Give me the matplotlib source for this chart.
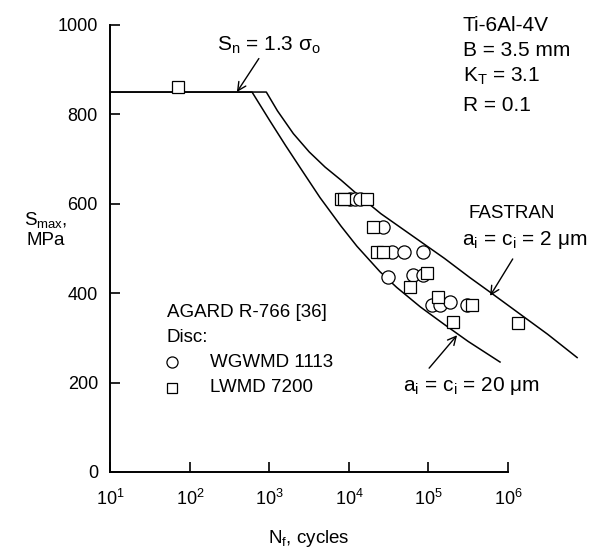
import math
import matplotlib
matplotlib.use("Agg")
import matplotlib.pyplot as plt
from matplotlib.ticker import FixedLocator, FuncFormatter

plt.rcParams['font.family'] = ['Liberation Sans', 'DejaVu Sans']
plt.rcParams['mathtext.fontset'] = 'custom'
plt.rcParams['mathtext.rm'] = 'Liberation Sans'
plt.rcParams['mathtext.it'] = 'Liberation Sans:italic'
plt.rcParams['font.size'] = 13.5

# FASTRAN predictions (cycles, max stress in MPa)
fastran_20um_N = [10, 603, 1000, 1585, 2512, 4315, 7943, 12590, 24550, 39810,
                  79430, 158500, 316200, 794300]
fastran_20um_S = [850, 850, 787, 731, 677, 614, 550, 505, 448, 413,
                  369, 330, 292, 246]
fastran_2um_N = [10, 912, 1259, 1995, 3162, 5012, 7943, 12590, 25120, 63100,
                 158500, 331100, 588800, 1585000, 3162000, 7413000]
fastran_2um_S = [850, 850, 808, 757, 716, 682, 653, 622, 578, 528,
                 478, 435, 403, 347, 308, 256]

# AGARD R-766 test data
wgwmd_N = [10300, 11900, 13700, 26800, 34800, 49200, 85300, 31000, 63800, 85300,
           111000, 140000, 186000, 305000]
wgwmd_S = [610, 610, 610, 548, 492, 492, 492, 436, 441, 441,
           374, 374, 380, 374]
lwmd_N = [71, 7870, 8650, 16800, 20000, 22500, 26800, 95700, 58500,
          132000, 352000, 204000, 1340000]
lwmd_S = [861, 610, 610, 610, 548, 492, 492, 445, 414,
          391, 374, 336, 333]

x_ticks = [1e1, 1e2, 1e3, 1e4, 1e5, 1e6]
y_ticks = [0, 200, 400, 600, 800, 1000]

fig = plt.figure(figsize=(5.96, 5.48), dpi=100)
ax = fig.add_axes([0.1854, 0.1387, 0.6669, 0.8157])

line_kw = dict(color='black', lw=1.1, clip_on=False)
ax.plot(fastran_20um_N, fastran_20um_S, **line_kw)
ax.plot(fastran_2um_N, fastran_2um_S, **line_kw)

ax.plot(wgwmd_N, wgwmd_S, 'o', ms=9.5, mfc='white', mec='black', mew=0.9, clip_on=False)
ax.plot(lwmd_N, lwmd_S, 's', ms=8.5, mfc='white', mec='black', mew=0.9, clip_on=False)

ax.set_xscale('log')
ax.set_xlim(1e1, 1e6)
ax.set_ylim(0, 1000)
ax.xaxis.set_major_locator(FixedLocator(x_ticks))
ax.xaxis.set_minor_locator(FixedLocator([]))
ax.xaxis.set_major_formatter(
    FuncFormatter(lambda v, p: r'$\mathregular{10^{%d}}$' % round(math.log10(v))))
ax.yaxis.set_major_locator(FixedLocator(y_ticks))

for s in ['top', 'right']:
    ax.spines[s].set_visible(False)
for s in ['left', 'bottom']:
    ax.spines[s].set_linewidth(1.4)
ax.tick_params(direction='in', length=7, width=1.2, labelsize=13)
ax.tick_params(axis='y', pad=9)
ax.tick_params(axis='x', pad=12)

ax.set_xlabel(r'N$_\mathregular{f}$, cycles', fontsize=13.5, labelpad=14)
fig.text(0.077, 0.582, r'S$_\mathregular{max}$,' + '\nMPa', ha='center', va='center',
         fontsize=13.5, linespacing=1.15)

# Net-section stress limit annotation
ax.annotate(r'S$_\mathregular{n}$ = 1.3 σ$_\mathregular{o}$', xy=(0.318, 0.850),
            xytext=(0.268, 0.955),
            xycoords='axes fraction', textcoords='axes fraction', ha='left', va='center',
            fontsize=15,
            arrowprops=dict(arrowstyle='->', color='black', lw=1.0,
                            shrinkA=0, shrinkB=0, relpos=(0.42, 0.0)),
            annotation_clip=False)

# Material and test condition block
tx = 0.886
blk = dict(transform=ax.transAxes, ha='left', va='center', clip_on=False, fontsize=15)
ax.text(tx, 0.999, 'Ti-6Al-4V', **blk)
ax.text(tx, 0.942, 'B = 3.5 mm', **blk)
ax.text(tx, 0.886, r'K$_\mathregular{T}$ = 3.1', **blk)
ax.text(tx, 0.821, 'R = 0.1', **blk)

# FASTRAN labels with arrows
ax.text(0.90, 0.578, 'FASTRAN', transform=ax.transAxes, ha='left', va='center',
        clip_on=False, fontsize=13.5)
ax.annotate(r'a$_\mathregular{i}$ = c$_\mathregular{i}$ = 2 μm', xy=(0.955, 0.394),
            xytext=(0.885, 0.518),
            xycoords='axes fraction', textcoords='axes fraction', ha='left', va='center',
            fontsize=15,
            arrowprops=dict(arrowstyle='->', color='black', lw=1.0,
                            shrinkA=4, shrinkB=0, relpos=(0.44, 0.0)),
            annotation_clip=False)
ax.annotate(r'a$_\mathregular{i}$ = c$_\mathregular{i}$ = 20 μm', xy=(0.872, 0.306),
            xytext=(0.735, 0.192),
            xycoords='axes fraction', textcoords='axes fraction', ha='left', va='center',
            fontsize=15,
            arrowprops=dict(arrowstyle='->', color='black', lw=1.0,
                            shrinkA=4, shrinkB=0, relpos=(0.15, 1.0)),
            annotation_clip=False)

# Data source key
ax.text(0.142, 0.356, 'AGARD R-766 [36]', transform=ax.transAxes, ha='left', va='center')
ax.text(0.142, 0.300, 'Disc:', transform=ax.transAxes, ha='left', va='center')
ax.plot([0.155], [0.246], 'o', transform=ax.transAxes, ms=8, mfc='white', mec='black', mew=0.9)
ax.plot([0.155], [0.188], 's', transform=ax.transAxes, ms=7, mfc='white', mec='black', mew=0.9)
ax.text(0.250, 0.246, 'WGWMD 1113', transform=ax.transAxes, ha='left', va='center')
ax.text(0.250, 0.188, 'LWMD 7200', transform=ax.transAxes, ha='left', va='center')

fig.savefig('out.png', dpi=100)
